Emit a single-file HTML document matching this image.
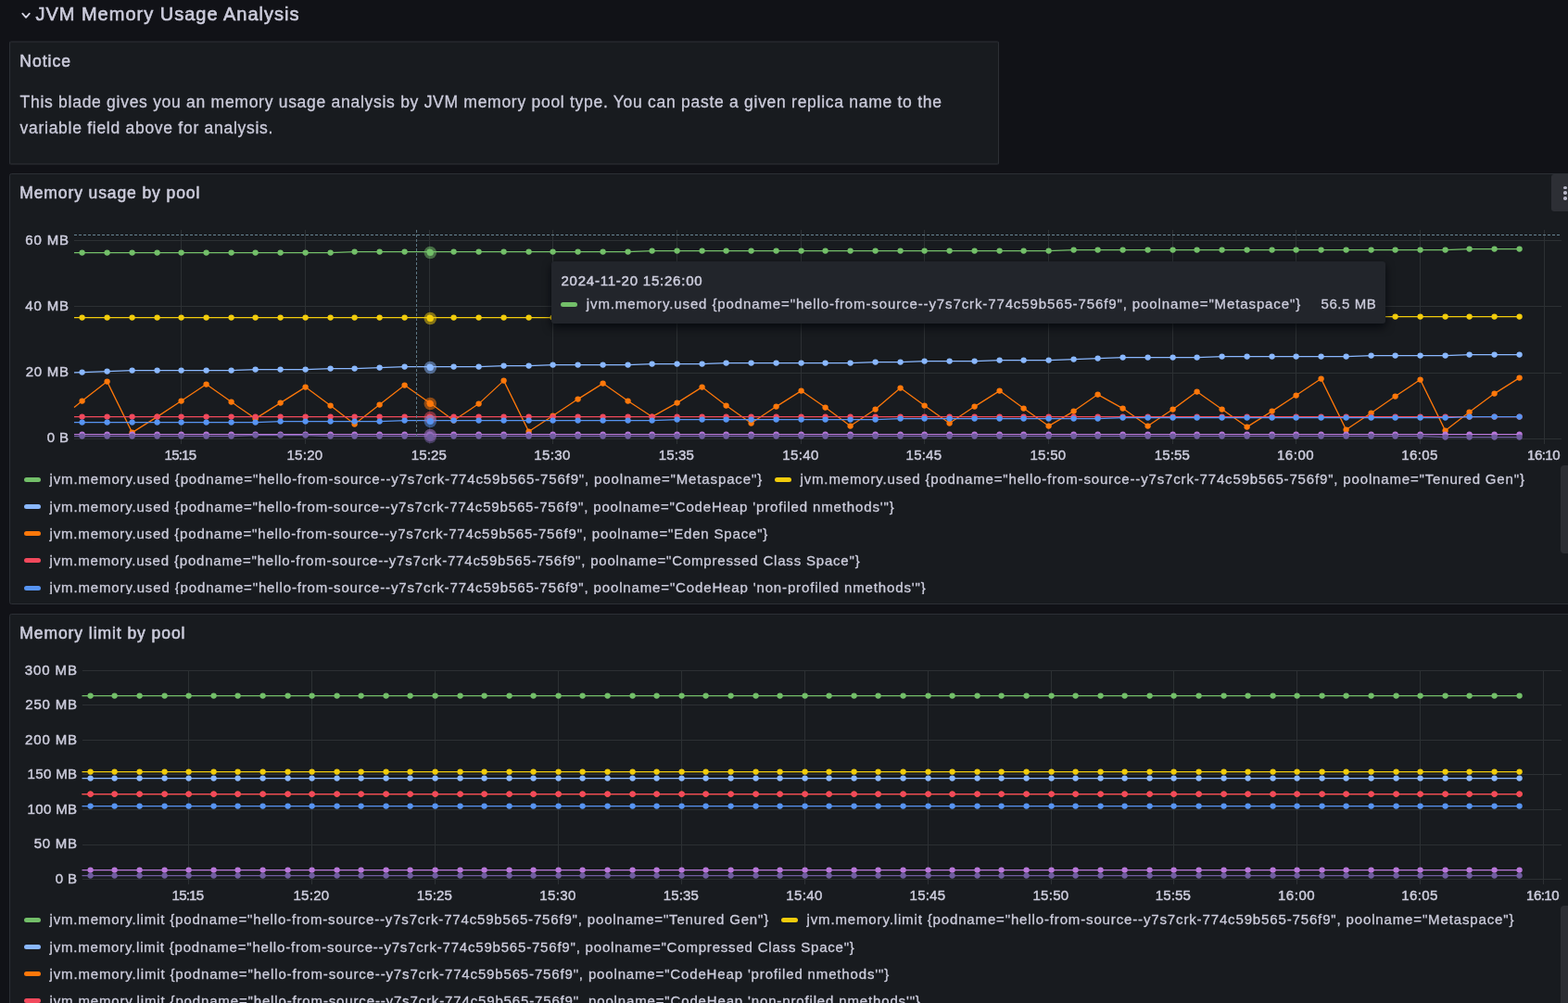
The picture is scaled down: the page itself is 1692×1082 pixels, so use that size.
<!DOCTYPE html>
<html lang="en">
<head>
<meta charset="utf-8">
<title>JVM Memory Usage Analysis</title>
<style>
*{box-sizing:border-box;margin:0;padding:0}
html,body{width:1692px;height:1082px;overflow:hidden;background:#111217}
body{position:relative;font-family:"Liberation Sans",Arial,sans-serif;color:#ccccdc;-webkit-font-smoothing:antialiased}
.rowtitle{position:absolute;left:0;top:0;height:30px;width:600px}
.rowtitle svg{position:absolute;left:20px;top:9px}
.rowtitle h1{position:absolute;left:38.4px;top:3px;font-size:20px;line-height:24px;font-weight:400;letter-spacing:1.0px;white-space:nowrap;-webkit-text-stroke:.6px #ccccdc}
.panel{position:absolute;background:#181b1f;border:1px solid #2c2f35;border-radius:2.5px;overflow:hidden}
#notice{left:10px;top:44px;width:1068px;height:134px;border-top-color:#1f2126;border-bottom-color:#1f2126;box-shadow:inset 0 1px 0 #24262b,inset 0 -1px 0 #24262b}
#usage{left:10px;top:187px;width:1700px;height:465px}
#limit{left:10px;top:662px;width:1700px;height:465px}
.panel h2{position:absolute;left:10.2px;top:9px;font-size:17.5px;line-height:22px;font-weight:400;letter-spacing:.9px;white-space:nowrap;-webkit-text-stroke:.55px #ccccdc}
.md{position:absolute;left:10.6px;top:51.4px;font-size:17.5px;line-height:28px;letter-spacing:.72px;width:1040px;-webkit-text-stroke:.3px #ccccdc}
.md p{white-space:nowrap}
svg.chart{position:absolute;left:-11px;top:-1px;overflow:visible}
svg.chart text{font-family:"Liberation Sans",Arial,sans-serif;fill:#ccccdc;stroke:#ccccdc;stroke-width:.45px}
.legend{position:absolute;left:0;list-style:none;font-size:15px;letter-spacing:.87px;white-space:nowrap;overflow:hidden;-webkit-text-stroke:.3px #ccccdc}
.legend li{height:29.25px;display:flex;align-items:center;padding-left:15px}
.legend .item{display:inline-flex;align-items:center;height:29.25px;margin-right:13px}
.legend li.r1 .lbl,.legend li.r2 .lbl,.legend li.r3 .lbl{top:.4px}
.legend i{display:inline-block;width:17.5px;height:5px;border-radius:2.5px;margin-right:10px}
.legend .lbl{display:inline-block;line-height:20px;position:relative;top:-0.6px}
#usage .legend{top:314.6px;height:138.4px;width:1680px}
#limit .legend{top:314.6px;height:138.4px;width:1680px}
.menu{position:absolute;left:1663px;top:0;width:40px;height:40px;background:#2d2f35;border-radius:3px}
.menu b{position:absolute;left:13.2px;width:4px;height:3.5px;border-radius:1.75px;background:#b6b6c6}
.sb{position:absolute;left:1673px;width:20px;border-radius:4px;background:#2c2e33}
.tooltip{position:absolute;left:595px;top:282px;width:900px;height:67px;background:#22252b;border-radius:3px;box-shadow:0 4px 10px rgba(1,4,9,.75);font-size:15px;white-space:nowrap}
.tooltip .ts{position:absolute;left:10.4px;top:10.6px;line-height:20px;letter-spacing:.78px;-webkit-text-stroke:.5px #ccccdc}
.tooltip i{position:absolute;left:10px;top:44px;width:17.5px;height:5px;border-radius:2.5px;background:#73BF69}
.tooltip .lbl{position:absolute;left:37.8px;top:35.5px;line-height:20px;letter-spacing:.886px;-webkit-text-stroke:.3px #ccccdc}
.tooltip .val{position:absolute;right:9.6px;top:35.5px;line-height:20px;letter-spacing:.57px;-webkit-text-stroke:.3px #ccccdc}
</style>
</head>
<body>
<header class="rowtitle"><svg width="16" height="16" viewBox="0 0 16 16"><path d="M4.3,5.7 L8.05,9.85 L11.8,5.7" fill="none" stroke="#d4d4e2" stroke-width="1.8" stroke-linecap="round" stroke-linejoin="round"/></svg><h1>JVM Memory Usage Analysis</h1></header>
<section class="panel" id="notice"><h2 style="letter-spacing:1.05px;top:10px">Notice</h2><div class="md"><p>This blade gives you an memory usage analysis by JVM memory pool type. You can paste a given replica name to the</p><p>variable field above for analysis.</p></div></section>
<section class="panel" id="usage"><h2>Memory usage by pool</h2>
<svg class="chart" width="1710" height="330" viewBox="0 187 1710 330" style="top:-1px">
<rect x="80" y="259" width="1605" height="1" fill="#2c3033"/>
<rect x="80" y="330" width="1605" height="1" fill="#2c3033"/>
<rect x="80" y="402" width="1605" height="1" fill="#2c3033"/>
<rect x="80" y="473" width="1605" height="1" fill="#2c3033"/>
<rect x="195" y="248" width="1" height="231" fill="#2c3033"/>
<rect x="329" y="248" width="1" height="231" fill="#2c3033"/>
<rect x="463" y="248" width="1" height="231" fill="#2c3033"/>
<rect x="596" y="248" width="1" height="231" fill="#2c3033"/>
<rect x="730" y="248" width="1" height="231" fill="#2c3033"/>
<rect x="864" y="248" width="1" height="231" fill="#2c3033"/>
<rect x="997" y="248" width="1" height="231" fill="#2c3033"/>
<rect x="1131" y="248" width="1" height="231" fill="#2c3033"/>
<rect x="1265" y="248" width="1" height="231" fill="#2c3033"/>
<rect x="1398" y="248" width="1" height="231" fill="#2c3033"/>
<rect x="1532" y="248" width="1" height="231" fill="#2c3033"/>
<rect x="1666" y="248" width="1" height="231" fill="#2c3033"/>
<g class="ax">
<text x="74.0" y="263.5" text-anchor="end" font-size="15" textLength="46.8" lengthAdjust="spacing" >60 MB</text>
<text x="74.0" y="334.7" text-anchor="end" font-size="15" textLength="46.8" lengthAdjust="spacing" >40 MB</text>
<text x="74.0" y="406.2" text-anchor="end" font-size="15" textLength="46.2" lengthAdjust="spacing" >20 MB</text>
<text x="74.0" y="477.2" text-anchor="end" font-size="15" textLength="23.3" lengthAdjust="spacing" >0 B</text>
<text x="194.8" y="495.5" text-anchor="middle" font-size="15" textLength="34.4" lengthAdjust="spacing" >15:15</text>
<text x="328.8" y="495.5" text-anchor="middle" font-size="15" textLength="38.6" lengthAdjust="spacing" >15:20</text>
<text x="462.8" y="495.5" text-anchor="middle" font-size="15" textLength="37.9" lengthAdjust="spacing" >15:25</text>
<text x="595.8" y="495.5" text-anchor="middle" font-size="15" textLength="38.9" lengthAdjust="spacing" >15:30</text>
<text x="729.8" y="495.5" text-anchor="middle" font-size="15" textLength="38.2" lengthAdjust="spacing" >15:35</text>
<text x="863.8" y="495.5" text-anchor="middle" font-size="15" textLength="39.2" lengthAdjust="spacing" >15:40</text>
<text x="996.8" y="495.5" text-anchor="middle" font-size="15" textLength="38.5" lengthAdjust="spacing" >15:45</text>
<text x="1130.8" y="495.5" text-anchor="middle" font-size="15" textLength="38.7" lengthAdjust="spacing" >15:50</text>
<text x="1264.8" y="495.5" text-anchor="middle" font-size="15" textLength="38.0" lengthAdjust="spacing" >15:55</text>
<text x="1397.8" y="495.5" text-anchor="middle" font-size="15" textLength="39.7" lengthAdjust="spacing" >16:00</text>
<text x="1531.8" y="495.5" text-anchor="middle" font-size="15" textLength="39.0" lengthAdjust="spacing" >16:05</text>
<text x="1665.8" y="495.5" text-anchor="middle" font-size="15" textLength="35.4" lengthAdjust="spacing" >16:10</text>
</g>
<path d="M80.0,272.6 L88.6,272.6 L115.6,272.6 L142.6,272.6 L169.6,272.6 L195.6,272.6 L222.6,272.6 L249.6,272.6 L275.6,272.6 L302.6,272.6 L329.6,272.6 L356.6,272.6 L382.6,271.6 L409.6,271.6 L436.6,271.6 L463.6,271.6 L489.6,271.6 L516.6,271.6 L543.6,271.6 L570.6,271.6 L596.6,271.6 L623.6,271.6 L650.6,271.6 L677.6,271.6 L703.6,270.6 L730.6,270.6 L757.6,270.6 L783.6,270.6 L810.6,270.6 L837.6,270.6 L864.6,270.6 L890.6,270.6 L917.6,270.6 L944.6,270.6 L971.6,270.6 L997.6,270.6 L1024.6,270.6 L1051.6,270.6 L1078.6,270.6 L1104.6,270.6 L1131.6,270.6 L1158.6,269.6 L1184.6,269.6 L1211.6,269.6 L1238.6,269.6 L1265.6,269.6 L1291.6,269.6 L1318.6,269.6 L1345.6,269.6 L1372.6,269.6 L1398.6,269.6 L1425.6,269.6 L1452.6,269.6 L1479.6,269.6 L1505.6,269.6 L1532.6,269.6 L1559.6,269.6 L1585.6,268.6 L1612.6,268.6 L1639.6,268.6" fill="none" stroke="#73BF69" stroke-width="1.25" stroke-linejoin="round"/><g fill="#73BF69"><circle cx="88.6" cy="272.6" r="3.15"/><circle cx="115.6" cy="272.6" r="3.15"/><circle cx="142.6" cy="272.6" r="3.15"/><circle cx="169.6" cy="272.6" r="3.15"/><circle cx="195.6" cy="272.6" r="3.15"/><circle cx="222.6" cy="272.6" r="3.15"/><circle cx="249.6" cy="272.6" r="3.15"/><circle cx="275.6" cy="272.6" r="3.15"/><circle cx="302.6" cy="272.6" r="3.15"/><circle cx="329.6" cy="272.6" r="3.15"/><circle cx="356.6" cy="272.6" r="3.15"/><circle cx="382.6" cy="271.6" r="3.15"/><circle cx="409.6" cy="271.6" r="3.15"/><circle cx="436.6" cy="271.6" r="3.15"/><circle cx="463.6" cy="271.6" r="3.15"/><circle cx="489.6" cy="271.6" r="3.15"/><circle cx="516.6" cy="271.6" r="3.15"/><circle cx="543.6" cy="271.6" r="3.15"/><circle cx="570.6" cy="271.6" r="3.15"/><circle cx="596.6" cy="271.6" r="3.15"/><circle cx="623.6" cy="271.6" r="3.15"/><circle cx="650.6" cy="271.6" r="3.15"/><circle cx="677.6" cy="271.6" r="3.15"/><circle cx="703.6" cy="270.6" r="3.15"/><circle cx="730.6" cy="270.6" r="3.15"/><circle cx="757.6" cy="270.6" r="3.15"/><circle cx="783.6" cy="270.6" r="3.15"/><circle cx="810.6" cy="270.6" r="3.15"/><circle cx="837.6" cy="270.6" r="3.15"/><circle cx="864.6" cy="270.6" r="3.15"/><circle cx="890.6" cy="270.6" r="3.15"/><circle cx="917.6" cy="270.6" r="3.15"/><circle cx="944.6" cy="270.6" r="3.15"/><circle cx="971.6" cy="270.6" r="3.15"/><circle cx="997.6" cy="270.6" r="3.15"/><circle cx="1024.6" cy="270.6" r="3.15"/><circle cx="1051.6" cy="270.6" r="3.15"/><circle cx="1078.6" cy="270.6" r="3.15"/><circle cx="1104.6" cy="270.6" r="3.15"/><circle cx="1131.6" cy="270.6" r="3.15"/><circle cx="1158.6" cy="269.6" r="3.15"/><circle cx="1184.6" cy="269.6" r="3.15"/><circle cx="1211.6" cy="269.6" r="3.15"/><circle cx="1238.6" cy="269.6" r="3.15"/><circle cx="1265.6" cy="269.6" r="3.15"/><circle cx="1291.6" cy="269.6" r="3.15"/><circle cx="1318.6" cy="269.6" r="3.15"/><circle cx="1345.6" cy="269.6" r="3.15"/><circle cx="1372.6" cy="269.6" r="3.15"/><circle cx="1398.6" cy="269.6" r="3.15"/><circle cx="1425.6" cy="269.6" r="3.15"/><circle cx="1452.6" cy="269.6" r="3.15"/><circle cx="1479.6" cy="269.6" r="3.15"/><circle cx="1505.6" cy="269.6" r="3.15"/><circle cx="1532.6" cy="269.6" r="3.15"/><circle cx="1559.6" cy="269.6" r="3.15"/><circle cx="1585.6" cy="268.6" r="3.15"/><circle cx="1612.6" cy="268.6" r="3.15"/><circle cx="1639.6" cy="268.6" r="3.15"/></g>
<path d="M80.0,342.6 L88.6,342.6 L115.6,342.6 L142.6,342.6 L169.6,342.6 L195.6,342.6 L222.6,342.6 L249.6,342.6 L275.6,342.6 L302.6,342.6 L329.6,342.6 L356.6,342.6 L382.6,342.6 L409.6,342.6 L436.6,342.6 L463.6,342.6 L489.6,342.6 L516.6,342.6 L543.6,342.6 L570.6,342.6 L596.6,342.6 L623.6,342.6 L650.6,342.6 L677.6,342.6 L703.6,342.6 L730.6,342.6 L757.6,342.6 L783.6,342.6 L810.6,342.6 L837.6,342.6 L864.6,342.6 L890.6,341.6 L917.6,341.6 L944.6,341.6 L971.6,341.6 L997.6,341.6 L1024.6,341.6 L1051.6,341.6 L1078.6,341.6 L1104.6,341.6 L1131.6,341.6 L1158.6,341.6 L1184.6,341.6 L1211.6,341.6 L1238.6,341.6 L1265.6,341.6 L1291.6,341.6 L1318.6,341.6 L1345.6,341.6 L1372.6,341.6 L1398.6,341.6 L1425.6,341.6 L1452.6,341.6 L1479.6,341.6 L1505.6,341.6 L1532.6,341.6 L1559.6,341.6 L1585.6,341.6 L1612.6,341.6 L1639.6,341.6" fill="none" stroke="#F2CC0C" stroke-width="1.25" stroke-linejoin="round"/><g fill="#F2CC0C"><circle cx="88.6" cy="342.6" r="3.15"/><circle cx="115.6" cy="342.6" r="3.15"/><circle cx="142.6" cy="342.6" r="3.15"/><circle cx="169.6" cy="342.6" r="3.15"/><circle cx="195.6" cy="342.6" r="3.15"/><circle cx="222.6" cy="342.6" r="3.15"/><circle cx="249.6" cy="342.6" r="3.15"/><circle cx="275.6" cy="342.6" r="3.15"/><circle cx="302.6" cy="342.6" r="3.15"/><circle cx="329.6" cy="342.6" r="3.15"/><circle cx="356.6" cy="342.6" r="3.15"/><circle cx="382.6" cy="342.6" r="3.15"/><circle cx="409.6" cy="342.6" r="3.15"/><circle cx="436.6" cy="342.6" r="3.15"/><circle cx="463.6" cy="342.6" r="3.15"/><circle cx="489.6" cy="342.6" r="3.15"/><circle cx="516.6" cy="342.6" r="3.15"/><circle cx="543.6" cy="342.6" r="3.15"/><circle cx="570.6" cy="342.6" r="3.15"/><circle cx="596.6" cy="342.6" r="3.15"/><circle cx="623.6" cy="342.6" r="3.15"/><circle cx="650.6" cy="342.6" r="3.15"/><circle cx="677.6" cy="342.6" r="3.15"/><circle cx="703.6" cy="342.6" r="3.15"/><circle cx="730.6" cy="342.6" r="3.15"/><circle cx="757.6" cy="342.6" r="3.15"/><circle cx="783.6" cy="342.6" r="3.15"/><circle cx="810.6" cy="342.6" r="3.15"/><circle cx="837.6" cy="342.6" r="3.15"/><circle cx="864.6" cy="342.6" r="3.15"/><circle cx="890.6" cy="341.6" r="3.15"/><circle cx="917.6" cy="341.6" r="3.15"/><circle cx="944.6" cy="341.6" r="3.15"/><circle cx="971.6" cy="341.6" r="3.15"/><circle cx="997.6" cy="341.6" r="3.15"/><circle cx="1024.6" cy="341.6" r="3.15"/><circle cx="1051.6" cy="341.6" r="3.15"/><circle cx="1078.6" cy="341.6" r="3.15"/><circle cx="1104.6" cy="341.6" r="3.15"/><circle cx="1131.6" cy="341.6" r="3.15"/><circle cx="1158.6" cy="341.6" r="3.15"/><circle cx="1184.6" cy="341.6" r="3.15"/><circle cx="1211.6" cy="341.6" r="3.15"/><circle cx="1238.6" cy="341.6" r="3.15"/><circle cx="1265.6" cy="341.6" r="3.15"/><circle cx="1291.6" cy="341.6" r="3.15"/><circle cx="1318.6" cy="341.6" r="3.15"/><circle cx="1345.6" cy="341.6" r="3.15"/><circle cx="1372.6" cy="341.6" r="3.15"/><circle cx="1398.6" cy="341.6" r="3.15"/><circle cx="1425.6" cy="341.6" r="3.15"/><circle cx="1452.6" cy="341.6" r="3.15"/><circle cx="1479.6" cy="341.6" r="3.15"/><circle cx="1505.6" cy="341.6" r="3.15"/><circle cx="1532.6" cy="341.6" r="3.15"/><circle cx="1559.6" cy="341.6" r="3.15"/><circle cx="1585.6" cy="341.6" r="3.15"/><circle cx="1612.6" cy="341.6" r="3.15"/><circle cx="1639.6" cy="341.6" r="3.15"/></g>
<path d="M80.0,401.9 L88.6,401.6 L115.6,400.6 L142.6,399.6 L169.6,399.6 L195.6,399.6 L222.6,399.6 L249.6,399.6 L275.6,398.6 L302.6,398.6 L329.6,398.6 L356.6,397.6 L382.6,397.6 L409.6,396.6 L436.6,395.6 L463.6,395.6 L489.6,395.6 L516.6,395.6 L543.6,394.6 L570.6,394.6 L596.6,393.6 L623.6,393.6 L650.6,393.6 L677.6,393.6 L703.6,392.6 L730.6,392.6 L757.6,392.6 L783.6,391.6 L810.6,391.6 L837.6,391.6 L864.6,391.6 L890.6,391.6 L917.6,391.6 L944.6,390.6 L971.6,390.6 L997.6,389.6 L1024.6,389.6 L1051.6,389.6 L1078.6,388.6 L1104.6,388.6 L1131.6,388.6 L1158.6,387.6 L1184.6,386.6 L1211.6,385.6 L1238.6,385.6 L1265.6,385.6 L1291.6,385.6 L1318.6,384.6 L1345.6,384.6 L1372.6,384.6 L1398.6,384.6 L1425.6,384.6 L1452.6,384.6 L1479.6,383.6 L1505.6,383.6 L1532.6,383.6 L1559.6,383.6 L1585.6,382.6 L1612.6,382.6 L1639.6,382.6" fill="none" stroke="#8AB8FF" stroke-width="1.25" stroke-linejoin="round"/><g fill="#8AB8FF"><circle cx="88.6" cy="401.6" r="3.15"/><circle cx="115.6" cy="400.6" r="3.15"/><circle cx="142.6" cy="399.6" r="3.15"/><circle cx="169.6" cy="399.6" r="3.15"/><circle cx="195.6" cy="399.6" r="3.15"/><circle cx="222.6" cy="399.6" r="3.15"/><circle cx="249.6" cy="399.6" r="3.15"/><circle cx="275.6" cy="398.6" r="3.15"/><circle cx="302.6" cy="398.6" r="3.15"/><circle cx="329.6" cy="398.6" r="3.15"/><circle cx="356.6" cy="397.6" r="3.15"/><circle cx="382.6" cy="397.6" r="3.15"/><circle cx="409.6" cy="396.6" r="3.15"/><circle cx="436.6" cy="395.6" r="3.15"/><circle cx="463.6" cy="395.6" r="3.15"/><circle cx="489.6" cy="395.6" r="3.15"/><circle cx="516.6" cy="395.6" r="3.15"/><circle cx="543.6" cy="394.6" r="3.15"/><circle cx="570.6" cy="394.6" r="3.15"/><circle cx="596.6" cy="393.6" r="3.15"/><circle cx="623.6" cy="393.6" r="3.15"/><circle cx="650.6" cy="393.6" r="3.15"/><circle cx="677.6" cy="393.6" r="3.15"/><circle cx="703.6" cy="392.6" r="3.15"/><circle cx="730.6" cy="392.6" r="3.15"/><circle cx="757.6" cy="392.6" r="3.15"/><circle cx="783.6" cy="391.6" r="3.15"/><circle cx="810.6" cy="391.6" r="3.15"/><circle cx="837.6" cy="391.6" r="3.15"/><circle cx="864.6" cy="391.6" r="3.15"/><circle cx="890.6" cy="391.6" r="3.15"/><circle cx="917.6" cy="391.6" r="3.15"/><circle cx="944.6" cy="390.6" r="3.15"/><circle cx="971.6" cy="390.6" r="3.15"/><circle cx="997.6" cy="389.6" r="3.15"/><circle cx="1024.6" cy="389.6" r="3.15"/><circle cx="1051.6" cy="389.6" r="3.15"/><circle cx="1078.6" cy="388.6" r="3.15"/><circle cx="1104.6" cy="388.6" r="3.15"/><circle cx="1131.6" cy="388.6" r="3.15"/><circle cx="1158.6" cy="387.6" r="3.15"/><circle cx="1184.6" cy="386.6" r="3.15"/><circle cx="1211.6" cy="385.6" r="3.15"/><circle cx="1238.6" cy="385.6" r="3.15"/><circle cx="1265.6" cy="385.6" r="3.15"/><circle cx="1291.6" cy="385.6" r="3.15"/><circle cx="1318.6" cy="384.6" r="3.15"/><circle cx="1345.6" cy="384.6" r="3.15"/><circle cx="1372.6" cy="384.6" r="3.15"/><circle cx="1398.6" cy="384.6" r="3.15"/><circle cx="1425.6" cy="384.6" r="3.15"/><circle cx="1452.6" cy="384.6" r="3.15"/><circle cx="1479.6" cy="383.6" r="3.15"/><circle cx="1505.6" cy="383.6" r="3.15"/><circle cx="1532.6" cy="383.6" r="3.15"/><circle cx="1559.6" cy="383.6" r="3.15"/><circle cx="1585.6" cy="382.6" r="3.15"/><circle cx="1612.6" cy="382.6" r="3.15"/><circle cx="1639.6" cy="382.6" r="3.15"/></g>
<path d="M80.0,439.5 L88.6,432.6 L115.6,411.6 L142.6,466.6 L169.6,449.6 L195.6,432.6 L222.6,414.6 L249.6,433.6 L275.6,451.6 L302.6,434.6 L329.6,417.6 L356.6,437.6 L382.6,457.6 L409.6,436.6 L436.6,415.6 L463.6,434.6 L489.6,453.6 L516.6,435.6 L543.6,410.6 L570.6,465.6 L596.6,448.6 L623.6,430.6 L650.6,413.6 L677.6,432.6 L703.6,449.6 L730.6,434.6 L757.6,417.6 L783.6,437.6 L810.6,456.6 L837.6,438.6 L864.6,421.6 L890.6,439.6 L917.6,459.6 L944.6,441.6 L971.6,418.6 L997.6,437.6 L1024.6,456.6 L1051.6,438.6 L1078.6,421.6 L1104.6,440.6 L1131.6,459.6 L1158.6,443.6 L1184.6,425.6 L1211.6,440.6 L1238.6,459.6 L1265.6,441.6 L1291.6,422.6 L1318.6,441.6 L1345.6,460.6 L1372.6,443.6 L1398.6,426.6 L1425.6,408.6 L1452.6,463.6 L1479.6,445.6 L1505.6,427.6 L1532.6,409.6 L1559.6,464.6 L1585.6,444.6 L1612.6,424.6 L1639.6,407.6" fill="none" stroke="#FF780A" stroke-width="1.25" stroke-linejoin="round"/><g fill="#FF780A"><circle cx="88.6" cy="432.6" r="3.15"/><circle cx="115.6" cy="411.6" r="3.15"/><circle cx="142.6" cy="466.6" r="3.15"/><circle cx="169.6" cy="449.6" r="3.15"/><circle cx="195.6" cy="432.6" r="3.15"/><circle cx="222.6" cy="414.6" r="3.15"/><circle cx="249.6" cy="433.6" r="3.15"/><circle cx="275.6" cy="451.6" r="3.15"/><circle cx="302.6" cy="434.6" r="3.15"/><circle cx="329.6" cy="417.6" r="3.15"/><circle cx="356.6" cy="437.6" r="3.15"/><circle cx="382.6" cy="457.6" r="3.15"/><circle cx="409.6" cy="436.6" r="3.15"/><circle cx="436.6" cy="415.6" r="3.15"/><circle cx="463.6" cy="434.6" r="3.15"/><circle cx="489.6" cy="453.6" r="3.15"/><circle cx="516.6" cy="435.6" r="3.15"/><circle cx="543.6" cy="410.6" r="3.15"/><circle cx="570.6" cy="465.6" r="3.15"/><circle cx="596.6" cy="448.6" r="3.15"/><circle cx="623.6" cy="430.6" r="3.15"/><circle cx="650.6" cy="413.6" r="3.15"/><circle cx="677.6" cy="432.6" r="3.15"/><circle cx="703.6" cy="449.6" r="3.15"/><circle cx="730.6" cy="434.6" r="3.15"/><circle cx="757.6" cy="417.6" r="3.15"/><circle cx="783.6" cy="437.6" r="3.15"/><circle cx="810.6" cy="456.6" r="3.15"/><circle cx="837.6" cy="438.6" r="3.15"/><circle cx="864.6" cy="421.6" r="3.15"/><circle cx="890.6" cy="439.6" r="3.15"/><circle cx="917.6" cy="459.6" r="3.15"/><circle cx="944.6" cy="441.6" r="3.15"/><circle cx="971.6" cy="418.6" r="3.15"/><circle cx="997.6" cy="437.6" r="3.15"/><circle cx="1024.6" cy="456.6" r="3.15"/><circle cx="1051.6" cy="438.6" r="3.15"/><circle cx="1078.6" cy="421.6" r="3.15"/><circle cx="1104.6" cy="440.6" r="3.15"/><circle cx="1131.6" cy="459.6" r="3.15"/><circle cx="1158.6" cy="443.6" r="3.15"/><circle cx="1184.6" cy="425.6" r="3.15"/><circle cx="1211.6" cy="440.6" r="3.15"/><circle cx="1238.6" cy="459.6" r="3.15"/><circle cx="1265.6" cy="441.6" r="3.15"/><circle cx="1291.6" cy="422.6" r="3.15"/><circle cx="1318.6" cy="441.6" r="3.15"/><circle cx="1345.6" cy="460.6" r="3.15"/><circle cx="1372.6" cy="443.6" r="3.15"/><circle cx="1398.6" cy="426.6" r="3.15"/><circle cx="1425.6" cy="408.6" r="3.15"/><circle cx="1452.6" cy="463.6" r="3.15"/><circle cx="1479.6" cy="445.6" r="3.15"/><circle cx="1505.6" cy="427.6" r="3.15"/><circle cx="1532.6" cy="409.6" r="3.15"/><circle cx="1559.6" cy="464.6" r="3.15"/><circle cx="1585.6" cy="444.6" r="3.15"/><circle cx="1612.6" cy="424.6" r="3.15"/><circle cx="1639.6" cy="407.6" r="3.15"/></g>
<path d="M80.0,449.6 L88.6,449.6 L115.6,449.6 L142.6,449.6 L169.6,449.6 L195.6,449.6 L222.6,449.6 L249.6,449.6 L275.6,449.6 L302.6,449.6 L329.6,449.6 L356.6,449.6 L382.6,449.6 L409.6,449.6 L436.6,449.6 L463.6,449.6 L489.6,449.6 L516.6,449.6 L543.6,449.6 L570.6,449.6 L596.6,449.6 L623.6,449.6 L650.6,449.6 L677.6,449.6 L703.6,449.6 L730.6,449.6 L757.6,449.6 L783.6,449.6 L810.6,449.6 L837.6,449.6 L864.6,449.6 L890.6,449.6 L917.6,449.6 L944.6,449.6 L971.6,449.6 L997.6,449.6 L1024.6,449.6 L1051.6,449.6 L1078.6,449.6 L1104.6,449.6 L1131.6,449.6 L1158.6,449.6 L1184.6,449.6 L1211.6,449.6 L1238.6,449.6 L1265.6,449.6 L1291.6,449.6 L1318.6,449.6 L1345.6,449.6 L1372.6,449.6 L1398.6,449.6 L1425.6,449.6 L1452.6,449.6 L1479.6,449.6 L1505.6,449.6 L1532.6,449.6 L1559.6,449.6 L1585.6,449.6 L1612.6,449.6 L1639.6,449.6" fill="none" stroke="#F2495C" stroke-width="1.25" stroke-linejoin="round"/><g fill="#F2495C"><circle cx="88.6" cy="449.6" r="3.15"/><circle cx="115.6" cy="449.6" r="3.15"/><circle cx="142.6" cy="449.6" r="3.15"/><circle cx="169.6" cy="449.6" r="3.15"/><circle cx="195.6" cy="449.6" r="3.15"/><circle cx="222.6" cy="449.6" r="3.15"/><circle cx="249.6" cy="449.6" r="3.15"/><circle cx="275.6" cy="449.6" r="3.15"/><circle cx="302.6" cy="449.6" r="3.15"/><circle cx="329.6" cy="449.6" r="3.15"/><circle cx="356.6" cy="449.6" r="3.15"/><circle cx="382.6" cy="449.6" r="3.15"/><circle cx="409.6" cy="449.6" r="3.15"/><circle cx="436.6" cy="449.6" r="3.15"/><circle cx="463.6" cy="449.6" r="3.15"/><circle cx="489.6" cy="449.6" r="3.15"/><circle cx="516.6" cy="449.6" r="3.15"/><circle cx="543.6" cy="449.6" r="3.15"/><circle cx="570.6" cy="449.6" r="3.15"/><circle cx="596.6" cy="449.6" r="3.15"/><circle cx="623.6" cy="449.6" r="3.15"/><circle cx="650.6" cy="449.6" r="3.15"/><circle cx="677.6" cy="449.6" r="3.15"/><circle cx="703.6" cy="449.6" r="3.15"/><circle cx="730.6" cy="449.6" r="3.15"/><circle cx="757.6" cy="449.6" r="3.15"/><circle cx="783.6" cy="449.6" r="3.15"/><circle cx="810.6" cy="449.6" r="3.15"/><circle cx="837.6" cy="449.6" r="3.15"/><circle cx="864.6" cy="449.6" r="3.15"/><circle cx="890.6" cy="449.6" r="3.15"/><circle cx="917.6" cy="449.6" r="3.15"/><circle cx="944.6" cy="449.6" r="3.15"/><circle cx="971.6" cy="449.6" r="3.15"/><circle cx="997.6" cy="449.6" r="3.15"/><circle cx="1024.6" cy="449.6" r="3.15"/><circle cx="1051.6" cy="449.6" r="3.15"/><circle cx="1078.6" cy="449.6" r="3.15"/><circle cx="1104.6" cy="449.6" r="3.15"/><circle cx="1131.6" cy="449.6" r="3.15"/><circle cx="1158.6" cy="449.6" r="3.15"/><circle cx="1184.6" cy="449.6" r="3.15"/><circle cx="1211.6" cy="449.6" r="3.15"/><circle cx="1238.6" cy="449.6" r="3.15"/><circle cx="1265.6" cy="449.6" r="3.15"/><circle cx="1291.6" cy="449.6" r="3.15"/><circle cx="1318.6" cy="449.6" r="3.15"/><circle cx="1345.6" cy="449.6" r="3.15"/><circle cx="1372.6" cy="449.6" r="3.15"/><circle cx="1398.6" cy="449.6" r="3.15"/><circle cx="1425.6" cy="449.6" r="3.15"/><circle cx="1452.6" cy="449.6" r="3.15"/><circle cx="1479.6" cy="449.6" r="3.15"/><circle cx="1505.6" cy="449.6" r="3.15"/><circle cx="1532.6" cy="449.6" r="3.15"/><circle cx="1559.6" cy="449.6" r="3.15"/><circle cx="1585.6" cy="449.6" r="3.15"/><circle cx="1612.6" cy="449.6" r="3.15"/><circle cx="1639.6" cy="449.6" r="3.15"/></g>
<path d="M80.0,455.6 L88.6,455.6 L115.6,455.6 L142.6,455.6 L169.6,455.6 L195.6,455.6 L222.6,455.6 L249.6,455.6 L275.6,455.6 L302.6,454.6 L329.6,454.6 L356.6,454.6 L382.6,454.6 L409.6,454.6 L436.6,453.6 L463.6,453.6 L489.6,453.6 L516.6,453.6 L543.6,453.6 L570.6,453.6 L596.6,453.6 L623.6,453.6 L650.6,453.6 L677.6,453.6 L703.6,453.6 L730.6,452.6 L757.6,452.6 L783.6,452.6 L810.6,452.6 L837.6,452.6 L864.6,452.6 L890.6,452.6 L917.6,452.6 L944.6,452.6 L971.6,451.6 L997.6,451.6 L1024.6,451.6 L1051.6,451.6 L1078.6,451.6 L1104.6,451.6 L1131.6,451.6 L1158.6,451.6 L1184.6,451.6 L1211.6,450.6 L1238.6,450.6 L1265.6,450.6 L1291.6,450.6 L1318.6,450.6 L1345.6,450.6 L1372.6,450.6 L1398.6,450.6 L1425.6,450.6 L1452.6,450.6 L1479.6,450.6 L1505.6,450.6 L1532.6,450.6 L1559.6,450.6 L1585.6,449.6 L1612.6,449.6 L1639.6,449.6" fill="none" stroke="#5794F2" stroke-width="1.25" stroke-linejoin="round"/><g fill="#5794F2"><circle cx="88.6" cy="455.6" r="3.15"/><circle cx="115.6" cy="455.6" r="3.15"/><circle cx="142.6" cy="455.6" r="3.15"/><circle cx="169.6" cy="455.6" r="3.15"/><circle cx="195.6" cy="455.6" r="3.15"/><circle cx="222.6" cy="455.6" r="3.15"/><circle cx="249.6" cy="455.6" r="3.15"/><circle cx="275.6" cy="455.6" r="3.15"/><circle cx="302.6" cy="454.6" r="3.15"/><circle cx="329.6" cy="454.6" r="3.15"/><circle cx="356.6" cy="454.6" r="3.15"/><circle cx="382.6" cy="454.6" r="3.15"/><circle cx="409.6" cy="454.6" r="3.15"/><circle cx="436.6" cy="453.6" r="3.15"/><circle cx="463.6" cy="453.6" r="3.15"/><circle cx="489.6" cy="453.6" r="3.15"/><circle cx="516.6" cy="453.6" r="3.15"/><circle cx="543.6" cy="453.6" r="3.15"/><circle cx="570.6" cy="453.6" r="3.15"/><circle cx="596.6" cy="453.6" r="3.15"/><circle cx="623.6" cy="453.6" r="3.15"/><circle cx="650.6" cy="453.6" r="3.15"/><circle cx="677.6" cy="453.6" r="3.15"/><circle cx="703.6" cy="453.6" r="3.15"/><circle cx="730.6" cy="452.6" r="3.15"/><circle cx="757.6" cy="452.6" r="3.15"/><circle cx="783.6" cy="452.6" r="3.15"/><circle cx="810.6" cy="452.6" r="3.15"/><circle cx="837.6" cy="452.6" r="3.15"/><circle cx="864.6" cy="452.6" r="3.15"/><circle cx="890.6" cy="452.6" r="3.15"/><circle cx="917.6" cy="452.6" r="3.15"/><circle cx="944.6" cy="452.6" r="3.15"/><circle cx="971.6" cy="451.6" r="3.15"/><circle cx="997.6" cy="451.6" r="3.15"/><circle cx="1024.6" cy="451.6" r="3.15"/><circle cx="1051.6" cy="451.6" r="3.15"/><circle cx="1078.6" cy="451.6" r="3.15"/><circle cx="1104.6" cy="451.6" r="3.15"/><circle cx="1131.6" cy="451.6" r="3.15"/><circle cx="1158.6" cy="451.6" r="3.15"/><circle cx="1184.6" cy="451.6" r="3.15"/><circle cx="1211.6" cy="450.6" r="3.15"/><circle cx="1238.6" cy="450.6" r="3.15"/><circle cx="1265.6" cy="450.6" r="3.15"/><circle cx="1291.6" cy="450.6" r="3.15"/><circle cx="1318.6" cy="450.6" r="3.15"/><circle cx="1345.6" cy="450.6" r="3.15"/><circle cx="1372.6" cy="450.6" r="3.15"/><circle cx="1398.6" cy="450.6" r="3.15"/><circle cx="1425.6" cy="450.6" r="3.15"/><circle cx="1452.6" cy="450.6" r="3.15"/><circle cx="1479.6" cy="450.6" r="3.15"/><circle cx="1505.6" cy="450.6" r="3.15"/><circle cx="1532.6" cy="450.6" r="3.15"/><circle cx="1559.6" cy="450.6" r="3.15"/><circle cx="1585.6" cy="449.6" r="3.15"/><circle cx="1612.6" cy="449.6" r="3.15"/><circle cx="1639.6" cy="449.6" r="3.15"/></g>
<path d="M80.0,468.6 L88.6,468.6 L115.6,468.6 L142.6,468.6 L169.6,468.6 L195.6,468.6 L222.6,468.6 L249.6,468.6 L275.6,468.6 L302.6,468.6 L329.6,468.6 L356.6,468.6 L382.6,468.6 L409.6,468.6 L436.6,468.6 L463.6,468.6 L489.6,468.6 L516.6,468.6 L543.6,468.6 L570.6,468.6 L596.6,468.6 L623.6,468.6 L650.6,468.6 L677.6,468.6 L703.6,468.6 L730.6,468.6 L757.6,468.6 L783.6,468.6 L810.6,468.6 L837.6,468.6 L864.6,468.6 L890.6,468.6 L917.6,468.6 L944.6,468.6 L971.6,468.6 L997.6,468.6 L1024.6,468.6 L1051.6,468.6 L1078.6,468.6 L1104.6,468.6 L1131.6,468.6 L1158.6,468.6 L1184.6,468.6 L1211.6,468.6 L1238.6,468.6 L1265.6,468.6 L1291.6,468.6 L1318.6,468.6 L1345.6,468.6 L1372.6,468.6 L1398.6,468.6 L1425.6,468.6 L1452.6,468.6 L1479.6,468.6 L1505.6,468.6 L1532.6,468.6 L1559.6,468.6 L1585.6,468.6 L1612.6,468.6 L1639.6,468.6" fill="none" stroke="#B877D9" stroke-width="1.25" stroke-linejoin="round"/><g fill="#B877D9"><circle cx="88.6" cy="468.6" r="3.15"/><circle cx="115.6" cy="468.6" r="3.15"/><circle cx="142.6" cy="468.6" r="3.15"/><circle cx="169.6" cy="468.6" r="3.15"/><circle cx="195.6" cy="468.6" r="3.15"/><circle cx="222.6" cy="468.6" r="3.15"/><circle cx="249.6" cy="468.6" r="3.15"/><circle cx="275.6" cy="468.6" r="3.15"/><circle cx="302.6" cy="468.6" r="3.15"/><circle cx="329.6" cy="468.6" r="3.15"/><circle cx="356.6" cy="468.6" r="3.15"/><circle cx="382.6" cy="468.6" r="3.15"/><circle cx="409.6" cy="468.6" r="3.15"/><circle cx="436.6" cy="468.6" r="3.15"/><circle cx="463.6" cy="468.6" r="3.15"/><circle cx="489.6" cy="468.6" r="3.15"/><circle cx="516.6" cy="468.6" r="3.15"/><circle cx="543.6" cy="468.6" r="3.15"/><circle cx="570.6" cy="468.6" r="3.15"/><circle cx="596.6" cy="468.6" r="3.15"/><circle cx="623.6" cy="468.6" r="3.15"/><circle cx="650.6" cy="468.6" r="3.15"/><circle cx="677.6" cy="468.6" r="3.15"/><circle cx="703.6" cy="468.6" r="3.15"/><circle cx="730.6" cy="468.6" r="3.15"/><circle cx="757.6" cy="468.6" r="3.15"/><circle cx="783.6" cy="468.6" r="3.15"/><circle cx="810.6" cy="468.6" r="3.15"/><circle cx="837.6" cy="468.6" r="3.15"/><circle cx="864.6" cy="468.6" r="3.15"/><circle cx="890.6" cy="468.6" r="3.15"/><circle cx="917.6" cy="468.6" r="3.15"/><circle cx="944.6" cy="468.6" r="3.15"/><circle cx="971.6" cy="468.6" r="3.15"/><circle cx="997.6" cy="468.6" r="3.15"/><circle cx="1024.6" cy="468.6" r="3.15"/><circle cx="1051.6" cy="468.6" r="3.15"/><circle cx="1078.6" cy="468.6" r="3.15"/><circle cx="1104.6" cy="468.6" r="3.15"/><circle cx="1131.6" cy="468.6" r="3.15"/><circle cx="1158.6" cy="468.6" r="3.15"/><circle cx="1184.6" cy="468.6" r="3.15"/><circle cx="1211.6" cy="468.6" r="3.15"/><circle cx="1238.6" cy="468.6" r="3.15"/><circle cx="1265.6" cy="468.6" r="3.15"/><circle cx="1291.6" cy="468.6" r="3.15"/><circle cx="1318.6" cy="468.6" r="3.15"/><circle cx="1345.6" cy="468.6" r="3.15"/><circle cx="1372.6" cy="468.6" r="3.15"/><circle cx="1398.6" cy="468.6" r="3.15"/><circle cx="1425.6" cy="468.6" r="3.15"/><circle cx="1452.6" cy="468.6" r="3.15"/><circle cx="1479.6" cy="468.6" r="3.15"/><circle cx="1505.6" cy="468.6" r="3.15"/><circle cx="1532.6" cy="468.6" r="3.15"/><circle cx="1559.6" cy="468.6" r="3.15"/><circle cx="1585.6" cy="468.6" r="3.15"/><circle cx="1612.6" cy="468.6" r="3.15"/><circle cx="1639.6" cy="468.6" r="3.15"/></g>
<path d="M80.0,470.6 L88.6,470.6 L115.6,470.6 L142.6,470.6 L169.6,470.6 L195.6,470.6 L222.6,470.6 L249.6,470.6 L275.6,469.6 L302.6,469.6 L329.6,469.6 L356.6,470.6 L382.6,470.6 L409.6,470.6 L436.6,470.6 L463.6,470.6 L489.6,470.6 L516.6,470.6 L543.6,470.6 L570.6,470.6 L596.6,470.6 L623.6,470.6 L650.6,470.6 L677.6,470.6 L703.6,470.6 L730.6,470.6 L757.6,470.6 L783.6,470.6 L810.6,470.6 L837.6,470.6 L864.6,470.6 L890.6,470.6 L917.6,470.6 L944.6,470.6 L971.6,470.6 L997.6,470.6 L1024.6,470.6 L1051.6,470.6 L1078.6,470.6 L1104.6,470.6 L1131.6,470.6 L1158.6,470.6 L1184.6,470.6 L1211.6,470.6 L1238.6,470.6 L1265.6,470.6 L1291.6,470.6 L1318.6,470.6 L1345.6,470.6 L1372.6,470.6 L1398.6,470.6 L1425.6,470.6 L1452.6,470.6 L1479.6,470.6 L1505.6,470.6 L1532.6,470.6 L1559.6,471.6 L1585.6,471.6 L1612.6,471.6 L1639.6,471.6" fill="none" stroke="#705DA0" stroke-width="1.25" stroke-linejoin="round"/><g fill="#705DA0"><circle cx="88.6" cy="470.6" r="3.15"/><circle cx="115.6" cy="470.6" r="3.15"/><circle cx="142.6" cy="470.6" r="3.15"/><circle cx="169.6" cy="470.6" r="3.15"/><circle cx="195.6" cy="470.6" r="3.15"/><circle cx="222.6" cy="470.6" r="3.15"/><circle cx="249.6" cy="470.6" r="3.15"/><circle cx="275.6" cy="469.6" r="3.15"/><circle cx="302.6" cy="469.6" r="3.15"/><circle cx="329.6" cy="469.6" r="3.15"/><circle cx="356.6" cy="470.6" r="3.15"/><circle cx="382.6" cy="470.6" r="3.15"/><circle cx="409.6" cy="470.6" r="3.15"/><circle cx="436.6" cy="470.6" r="3.15"/><circle cx="463.6" cy="470.6" r="3.15"/><circle cx="489.6" cy="470.6" r="3.15"/><circle cx="516.6" cy="470.6" r="3.15"/><circle cx="543.6" cy="470.6" r="3.15"/><circle cx="570.6" cy="470.6" r="3.15"/><circle cx="596.6" cy="470.6" r="3.15"/><circle cx="623.6" cy="470.6" r="3.15"/><circle cx="650.6" cy="470.6" r="3.15"/><circle cx="677.6" cy="470.6" r="3.15"/><circle cx="703.6" cy="470.6" r="3.15"/><circle cx="730.6" cy="470.6" r="3.15"/><circle cx="757.6" cy="470.6" r="3.15"/><circle cx="783.6" cy="470.6" r="3.15"/><circle cx="810.6" cy="470.6" r="3.15"/><circle cx="837.6" cy="470.6" r="3.15"/><circle cx="864.6" cy="470.6" r="3.15"/><circle cx="890.6" cy="470.6" r="3.15"/><circle cx="917.6" cy="470.6" r="3.15"/><circle cx="944.6" cy="470.6" r="3.15"/><circle cx="971.6" cy="470.6" r="3.15"/><circle cx="997.6" cy="470.6" r="3.15"/><circle cx="1024.6" cy="470.6" r="3.15"/><circle cx="1051.6" cy="470.6" r="3.15"/><circle cx="1078.6" cy="470.6" r="3.15"/><circle cx="1104.6" cy="470.6" r="3.15"/><circle cx="1131.6" cy="470.6" r="3.15"/><circle cx="1158.6" cy="470.6" r="3.15"/><circle cx="1184.6" cy="470.6" r="3.15"/><circle cx="1211.6" cy="470.6" r="3.15"/><circle cx="1238.6" cy="470.6" r="3.15"/><circle cx="1265.6" cy="470.6" r="3.15"/><circle cx="1291.6" cy="470.6" r="3.15"/><circle cx="1318.6" cy="470.6" r="3.15"/><circle cx="1345.6" cy="470.6" r="3.15"/><circle cx="1372.6" cy="470.6" r="3.15"/><circle cx="1398.6" cy="470.6" r="3.15"/><circle cx="1425.6" cy="470.6" r="3.15"/><circle cx="1452.6" cy="470.6" r="3.15"/><circle cx="1479.6" cy="470.6" r="3.15"/><circle cx="1505.6" cy="470.6" r="3.15"/><circle cx="1532.6" cy="470.6" r="3.15"/><circle cx="1559.6" cy="471.6" r="3.15"/><circle cx="1585.6" cy="471.6" r="3.15"/><circle cx="1612.6" cy="471.6" r="3.15"/><circle cx="1639.6" cy="471.6" r="3.15"/></g>
<path d="M80,253.5 H1685" stroke="#698593" stroke-width="1" stroke-dasharray="3 2" fill="none"/>
<path d="M449.5,248 V473" stroke="#5d7783" stroke-width="1" stroke-dasharray="3 2" fill="none"/>
<circle cx="464.3" cy="272.5" r="6.75" fill="#73BF69" fill-opacity="0.5"/>
<circle cx="464.3" cy="272.5" r="3.6" fill="#73BF69"/>
<circle cx="464.3" cy="343.5" r="6.75" fill="#F2CC0C" fill-opacity="0.5"/>
<circle cx="464.3" cy="343.5" r="3.6" fill="#F2CC0C"/>
<circle cx="464.3" cy="396.5" r="6.75" fill="#8AB8FF" fill-opacity="0.5"/>
<circle cx="464.3" cy="396.5" r="3.6" fill="#8AB8FF"/>
<circle cx="464.3" cy="435.5" r="6.75" fill="#FF780A" fill-opacity="0.5"/>
<circle cx="464.3" cy="435.5" r="3.6" fill="#FF780A"/>
<circle cx="464.3" cy="450.5" r="6.75" fill="#F2495C" fill-opacity="0.5"/>
<circle cx="464.3" cy="450.5" r="3.6" fill="#F2495C"/>
<circle cx="464.3" cy="454.5" r="6.75" fill="#5794F2" fill-opacity="0.5"/>
<circle cx="464.3" cy="454.5" r="3.6" fill="#5794F2"/>
<circle cx="464.3" cy="469.5" r="6.75" fill="#B877D9" fill-opacity="0.5"/>
<circle cx="464.3" cy="469.5" r="3.6" fill="#B877D9"/>
<circle cx="464.3" cy="471.5" r="6.75" fill="#705DA0" fill-opacity="0.5"/>
<circle cx="464.3" cy="471.5" r="3.6" fill="#705DA0"/>
</svg>
<ul class="legend l1">
<li class="r0">
<span class="item"><i style="background:#73BF69"></i><span class="lbl" style="letter-spacing:0.867px">jvm.memory.used {podname="hello-from-source--y7s7crk-774c59b565-756f9", poolname="Metaspace"}</span></span>
<span class="item"><i style="background:#F2CC0C"></i><span class="lbl" style="letter-spacing:0.842px">jvm.memory.used {podname="hello-from-source--y7s7crk-774c59b565-756f9", poolname="Tenured Gen"}</span></span>
</li>
<li class="r1">
<span class="item"><i style="background:#8AB8FF"></i><span class="lbl" style="letter-spacing:0.854px">jvm.memory.used {podname="hello-from-source--y7s7crk-774c59b565-756f9", poolname="CodeHeap 'profiled nmethods'"}</span></span>
</li>
<li class="r2">
<span class="item"><i style="background:#FF780A"></i><span class="lbl" style="letter-spacing:0.835px">jvm.memory.used {podname="hello-from-source--y7s7crk-774c59b565-756f9", poolname="Eden Space"}</span></span>
</li>
<li class="r3">
<span class="item"><i style="background:#F2495C"></i><span class="lbl" style="letter-spacing:0.812px">jvm.memory.used {podname="hello-from-source--y7s7crk-774c59b565-756f9", poolname="Compressed Class Space"}</span></span>
</li>
<li class="r4">
<span class="item"><i style="background:#5794F2"></i><span class="lbl" style="letter-spacing:0.859px">jvm.memory.used {podname="hello-from-source--y7s7crk-774c59b565-756f9", poolname="CodeHeap 'non-profiled nmethods'"}</span></span>
</li>
</ul>
<div class="sb" style="top:314px;height:95px"></div>
<div class="menu"><b style="top:12.5px"></b><b style="top:18.3px"></b><b style="top:24px"></b></div>
</section>
<section class="panel" id="limit"><h2 style="letter-spacing:.94px">Memory limit by pool</h2>
<svg class="chart" width="1710" height="330" viewBox="0 662 1710 330" style="top:-1px">
<rect x="89" y="723" width="1596" height="1" fill="#2c3033"/>
<rect x="89" y="760" width="1596" height="1" fill="#2c3033"/>
<rect x="89" y="798" width="1596" height="1" fill="#2c3033"/>
<rect x="89" y="835" width="1596" height="1" fill="#2c3033"/>
<rect x="89" y="873" width="1596" height="1" fill="#2c3033"/>
<rect x="89" y="911" width="1596" height="1" fill="#2c3033"/>
<rect x="89" y="948" width="1596" height="1" fill="#2c3033"/>
<rect x="203" y="723" width="1" height="231" fill="#2c3033"/>
<rect x="336" y="723" width="1" height="231" fill="#2c3033"/>
<rect x="469" y="723" width="1" height="231" fill="#2c3033"/>
<rect x="602" y="723" width="1" height="231" fill="#2c3033"/>
<rect x="735" y="723" width="1" height="231" fill="#2c3033"/>
<rect x="868" y="723" width="1" height="231" fill="#2c3033"/>
<rect x="1001" y="723" width="1" height="231" fill="#2c3033"/>
<rect x="1134" y="723" width="1" height="231" fill="#2c3033"/>
<rect x="1266" y="723" width="1" height="231" fill="#2c3033"/>
<rect x="1399" y="723" width="1" height="231" fill="#2c3033"/>
<rect x="1532" y="723" width="1" height="231" fill="#2c3033"/>
<rect x="1665" y="723" width="1" height="231" fill="#2c3033"/>
<g class="ax">
<text x="83.0" y="727.7" text-anchor="end" font-size="15" textLength="56.3" lengthAdjust="spacing" >300 MB</text>
<text x="83.0" y="765.2" text-anchor="end" font-size="15" textLength="55.7" lengthAdjust="spacing" >250 MB</text>
<text x="83.0" y="802.8" text-anchor="end" font-size="15" textLength="56.0" lengthAdjust="spacing" >200 MB</text>
<text x="83.0" y="840.3" text-anchor="end" font-size="15" textLength="53.5" lengthAdjust="spacing" >150 MB</text>
<text x="83.0" y="877.8" text-anchor="end" font-size="15" textLength="53.5" lengthAdjust="spacing" >100 MB</text>
<text x="83.0" y="915.3" text-anchor="end" font-size="15" textLength="46.3" lengthAdjust="spacing" >50 MB</text>
<text x="83.0" y="952.7" text-anchor="end" font-size="15" textLength="23.3" lengthAdjust="spacing" >0 B</text>
<text x="202.8" y="970.5" text-anchor="middle" font-size="15" textLength="34.4" lengthAdjust="spacing" >15:15</text>
<text x="335.8" y="970.5" text-anchor="middle" font-size="15" textLength="38.6" lengthAdjust="spacing" >15:20</text>
<text x="468.8" y="970.5" text-anchor="middle" font-size="15" textLength="37.9" lengthAdjust="spacing" >15:25</text>
<text x="601.8" y="970.5" text-anchor="middle" font-size="15" textLength="38.9" lengthAdjust="spacing" >15:30</text>
<text x="734.8" y="970.5" text-anchor="middle" font-size="15" textLength="38.2" lengthAdjust="spacing" >15:35</text>
<text x="867.8" y="970.5" text-anchor="middle" font-size="15" textLength="39.2" lengthAdjust="spacing" >15:40</text>
<text x="1000.8" y="970.5" text-anchor="middle" font-size="15" textLength="38.5" lengthAdjust="spacing" >15:45</text>
<text x="1133.8" y="970.5" text-anchor="middle" font-size="15" textLength="38.7" lengthAdjust="spacing" >15:50</text>
<text x="1265.8" y="970.5" text-anchor="middle" font-size="15" textLength="38.0" lengthAdjust="spacing" >15:55</text>
<text x="1398.8" y="970.5" text-anchor="middle" font-size="15" textLength="39.7" lengthAdjust="spacing" >16:00</text>
<text x="1531.8" y="970.5" text-anchor="middle" font-size="15" textLength="39.0" lengthAdjust="spacing" >16:05</text>
<text x="1664.8" y="970.5" text-anchor="middle" font-size="15" textLength="35.4" lengthAdjust="spacing" >16:10</text>
</g>
<path d="M88.5,750.6 L97.6,750.6 L123.6,750.6 L150.6,750.6 L177.6,750.6 L203.6,750.6 L230.6,750.6 L256.6,750.6 L283.6,750.6 L310.6,750.6 L336.6,750.6 L363.6,750.6 L389.6,750.6 L416.6,750.6 L442.6,750.6 L469.6,750.6 L496.6,750.6 L522.6,750.6 L549.6,750.6 L575.6,750.6 L602.6,750.6 L628.6,750.6 L655.6,750.6 L682.6,750.6 L708.6,750.6 L735.6,750.6 L761.6,750.6 L788.6,750.6 L815.6,750.6 L841.6,750.6 L868.6,750.6 L894.6,750.6 L921.6,750.6 L947.6,750.6 L974.6,750.6 L1001.6,750.6 L1027.6,750.6 L1054.6,750.6 L1080.6,750.6 L1107.6,750.6 L1134.6,750.6 L1160.6,750.6 L1187.6,750.6 L1213.6,750.6 L1240.6,750.6 L1266.6,750.6 L1293.6,750.6 L1320.6,750.6 L1346.6,750.6 L1373.6,750.6 L1399.6,750.6 L1426.6,750.6 L1452.6,750.6 L1479.6,750.6 L1506.6,750.6 L1532.6,750.6 L1559.6,750.6 L1585.6,750.6 L1612.6,750.6 L1639.6,750.6" fill="none" stroke="#73BF69" stroke-width="1.25" stroke-linejoin="round"/><g fill="#73BF69"><circle cx="97.6" cy="750.6" r="3.15"/><circle cx="123.6" cy="750.6" r="3.15"/><circle cx="150.6" cy="750.6" r="3.15"/><circle cx="177.6" cy="750.6" r="3.15"/><circle cx="203.6" cy="750.6" r="3.15"/><circle cx="230.6" cy="750.6" r="3.15"/><circle cx="256.6" cy="750.6" r="3.15"/><circle cx="283.6" cy="750.6" r="3.15"/><circle cx="310.6" cy="750.6" r="3.15"/><circle cx="336.6" cy="750.6" r="3.15"/><circle cx="363.6" cy="750.6" r="3.15"/><circle cx="389.6" cy="750.6" r="3.15"/><circle cx="416.6" cy="750.6" r="3.15"/><circle cx="442.6" cy="750.6" r="3.15"/><circle cx="469.6" cy="750.6" r="3.15"/><circle cx="496.6" cy="750.6" r="3.15"/><circle cx="522.6" cy="750.6" r="3.15"/><circle cx="549.6" cy="750.6" r="3.15"/><circle cx="575.6" cy="750.6" r="3.15"/><circle cx="602.6" cy="750.6" r="3.15"/><circle cx="628.6" cy="750.6" r="3.15"/><circle cx="655.6" cy="750.6" r="3.15"/><circle cx="682.6" cy="750.6" r="3.15"/><circle cx="708.6" cy="750.6" r="3.15"/><circle cx="735.6" cy="750.6" r="3.15"/><circle cx="761.6" cy="750.6" r="3.15"/><circle cx="788.6" cy="750.6" r="3.15"/><circle cx="815.6" cy="750.6" r="3.15"/><circle cx="841.6" cy="750.6" r="3.15"/><circle cx="868.6" cy="750.6" r="3.15"/><circle cx="894.6" cy="750.6" r="3.15"/><circle cx="921.6" cy="750.6" r="3.15"/><circle cx="947.6" cy="750.6" r="3.15"/><circle cx="974.6" cy="750.6" r="3.15"/><circle cx="1001.6" cy="750.6" r="3.15"/><circle cx="1027.6" cy="750.6" r="3.15"/><circle cx="1054.6" cy="750.6" r="3.15"/><circle cx="1080.6" cy="750.6" r="3.15"/><circle cx="1107.6" cy="750.6" r="3.15"/><circle cx="1134.6" cy="750.6" r="3.15"/><circle cx="1160.6" cy="750.6" r="3.15"/><circle cx="1187.6" cy="750.6" r="3.15"/><circle cx="1213.6" cy="750.6" r="3.15"/><circle cx="1240.6" cy="750.6" r="3.15"/><circle cx="1266.6" cy="750.6" r="3.15"/><circle cx="1293.6" cy="750.6" r="3.15"/><circle cx="1320.6" cy="750.6" r="3.15"/><circle cx="1346.6" cy="750.6" r="3.15"/><circle cx="1373.6" cy="750.6" r="3.15"/><circle cx="1399.6" cy="750.6" r="3.15"/><circle cx="1426.6" cy="750.6" r="3.15"/><circle cx="1452.6" cy="750.6" r="3.15"/><circle cx="1479.6" cy="750.6" r="3.15"/><circle cx="1506.6" cy="750.6" r="3.15"/><circle cx="1532.6" cy="750.6" r="3.15"/><circle cx="1559.6" cy="750.6" r="3.15"/><circle cx="1585.6" cy="750.6" r="3.15"/><circle cx="1612.6" cy="750.6" r="3.15"/><circle cx="1639.6" cy="750.6" r="3.15"/></g>
<path d="M88.5,832.6 L97.6,832.6 L123.6,832.6 L150.6,832.6 L177.6,832.6 L203.6,832.6 L230.6,832.6 L256.6,832.6 L283.6,832.6 L310.6,832.6 L336.6,832.6 L363.6,832.6 L389.6,832.6 L416.6,832.6 L442.6,832.6 L469.6,832.6 L496.6,832.6 L522.6,832.6 L549.6,832.6 L575.6,832.6 L602.6,832.6 L628.6,832.6 L655.6,832.6 L682.6,832.6 L708.6,832.6 L735.6,832.6 L761.6,832.6 L788.6,832.6 L815.6,832.6 L841.6,832.6 L868.6,832.6 L894.6,832.6 L921.6,832.6 L947.6,832.6 L974.6,832.6 L1001.6,832.6 L1027.6,832.6 L1054.6,832.6 L1080.6,832.6 L1107.6,832.6 L1134.6,832.6 L1160.6,832.6 L1187.6,832.6 L1213.6,832.6 L1240.6,832.6 L1266.6,832.6 L1293.6,832.6 L1320.6,832.6 L1346.6,832.6 L1373.6,832.6 L1399.6,832.6 L1426.6,832.6 L1452.6,832.6 L1479.6,832.6 L1506.6,832.6 L1532.6,832.6 L1559.6,832.6 L1585.6,832.6 L1612.6,832.6 L1639.6,832.6" fill="none" stroke="#F2CC0C" stroke-width="1.25" stroke-linejoin="round"/><g fill="#F2CC0C"><circle cx="97.6" cy="832.6" r="3.15"/><circle cx="123.6" cy="832.6" r="3.15"/><circle cx="150.6" cy="832.6" r="3.15"/><circle cx="177.6" cy="832.6" r="3.15"/><circle cx="203.6" cy="832.6" r="3.15"/><circle cx="230.6" cy="832.6" r="3.15"/><circle cx="256.6" cy="832.6" r="3.15"/><circle cx="283.6" cy="832.6" r="3.15"/><circle cx="310.6" cy="832.6" r="3.15"/><circle cx="336.6" cy="832.6" r="3.15"/><circle cx="363.6" cy="832.6" r="3.15"/><circle cx="389.6" cy="832.6" r="3.15"/><circle cx="416.6" cy="832.6" r="3.15"/><circle cx="442.6" cy="832.6" r="3.15"/><circle cx="469.6" cy="832.6" r="3.15"/><circle cx="496.6" cy="832.6" r="3.15"/><circle cx="522.6" cy="832.6" r="3.15"/><circle cx="549.6" cy="832.6" r="3.15"/><circle cx="575.6" cy="832.6" r="3.15"/><circle cx="602.6" cy="832.6" r="3.15"/><circle cx="628.6" cy="832.6" r="3.15"/><circle cx="655.6" cy="832.6" r="3.15"/><circle cx="682.6" cy="832.6" r="3.15"/><circle cx="708.6" cy="832.6" r="3.15"/><circle cx="735.6" cy="832.6" r="3.15"/><circle cx="761.6" cy="832.6" r="3.15"/><circle cx="788.6" cy="832.6" r="3.15"/><circle cx="815.6" cy="832.6" r="3.15"/><circle cx="841.6" cy="832.6" r="3.15"/><circle cx="868.6" cy="832.6" r="3.15"/><circle cx="894.6" cy="832.6" r="3.15"/><circle cx="921.6" cy="832.6" r="3.15"/><circle cx="947.6" cy="832.6" r="3.15"/><circle cx="974.6" cy="832.6" r="3.15"/><circle cx="1001.6" cy="832.6" r="3.15"/><circle cx="1027.6" cy="832.6" r="3.15"/><circle cx="1054.6" cy="832.6" r="3.15"/><circle cx="1080.6" cy="832.6" r="3.15"/><circle cx="1107.6" cy="832.6" r="3.15"/><circle cx="1134.6" cy="832.6" r="3.15"/><circle cx="1160.6" cy="832.6" r="3.15"/><circle cx="1187.6" cy="832.6" r="3.15"/><circle cx="1213.6" cy="832.6" r="3.15"/><circle cx="1240.6" cy="832.6" r="3.15"/><circle cx="1266.6" cy="832.6" r="3.15"/><circle cx="1293.6" cy="832.6" r="3.15"/><circle cx="1320.6" cy="832.6" r="3.15"/><circle cx="1346.6" cy="832.6" r="3.15"/><circle cx="1373.6" cy="832.6" r="3.15"/><circle cx="1399.6" cy="832.6" r="3.15"/><circle cx="1426.6" cy="832.6" r="3.15"/><circle cx="1452.6" cy="832.6" r="3.15"/><circle cx="1479.6" cy="832.6" r="3.15"/><circle cx="1506.6" cy="832.6" r="3.15"/><circle cx="1532.6" cy="832.6" r="3.15"/><circle cx="1559.6" cy="832.6" r="3.15"/><circle cx="1585.6" cy="832.6" r="3.15"/><circle cx="1612.6" cy="832.6" r="3.15"/><circle cx="1639.6" cy="832.6" r="3.15"/></g>
<path d="M88.5,839.6 L97.6,839.6 L123.6,839.6 L150.6,839.6 L177.6,839.6 L203.6,839.6 L230.6,839.6 L256.6,839.6 L283.6,839.6 L310.6,839.6 L336.6,839.6 L363.6,839.6 L389.6,839.6 L416.6,839.6 L442.6,839.6 L469.6,839.6 L496.6,839.6 L522.6,839.6 L549.6,839.6 L575.6,839.6 L602.6,839.6 L628.6,839.6 L655.6,839.6 L682.6,839.6 L708.6,839.6 L735.6,839.6 L761.6,839.6 L788.6,839.6 L815.6,839.6 L841.6,839.6 L868.6,839.6 L894.6,839.6 L921.6,839.6 L947.6,839.6 L974.6,839.6 L1001.6,839.6 L1027.6,839.6 L1054.6,839.6 L1080.6,839.6 L1107.6,839.6 L1134.6,839.6 L1160.6,839.6 L1187.6,839.6 L1213.6,839.6 L1240.6,839.6 L1266.6,839.6 L1293.6,839.6 L1320.6,839.6 L1346.6,839.6 L1373.6,839.6 L1399.6,839.6 L1426.6,839.6 L1452.6,839.6 L1479.6,839.6 L1506.6,839.6 L1532.6,839.6 L1559.6,839.6 L1585.6,839.6 L1612.6,839.6 L1639.6,839.6" fill="none" stroke="#8AB8FF" stroke-width="1.25" stroke-linejoin="round"/><g fill="#8AB8FF"><circle cx="97.6" cy="839.6" r="3.15"/><circle cx="123.6" cy="839.6" r="3.15"/><circle cx="150.6" cy="839.6" r="3.15"/><circle cx="177.6" cy="839.6" r="3.15"/><circle cx="203.6" cy="839.6" r="3.15"/><circle cx="230.6" cy="839.6" r="3.15"/><circle cx="256.6" cy="839.6" r="3.15"/><circle cx="283.6" cy="839.6" r="3.15"/><circle cx="310.6" cy="839.6" r="3.15"/><circle cx="336.6" cy="839.6" r="3.15"/><circle cx="363.6" cy="839.6" r="3.15"/><circle cx="389.6" cy="839.6" r="3.15"/><circle cx="416.6" cy="839.6" r="3.15"/><circle cx="442.6" cy="839.6" r="3.15"/><circle cx="469.6" cy="839.6" r="3.15"/><circle cx="496.6" cy="839.6" r="3.15"/><circle cx="522.6" cy="839.6" r="3.15"/><circle cx="549.6" cy="839.6" r="3.15"/><circle cx="575.6" cy="839.6" r="3.15"/><circle cx="602.6" cy="839.6" r="3.15"/><circle cx="628.6" cy="839.6" r="3.15"/><circle cx="655.6" cy="839.6" r="3.15"/><circle cx="682.6" cy="839.6" r="3.15"/><circle cx="708.6" cy="839.6" r="3.15"/><circle cx="735.6" cy="839.6" r="3.15"/><circle cx="761.6" cy="839.6" r="3.15"/><circle cx="788.6" cy="839.6" r="3.15"/><circle cx="815.6" cy="839.6" r="3.15"/><circle cx="841.6" cy="839.6" r="3.15"/><circle cx="868.6" cy="839.6" r="3.15"/><circle cx="894.6" cy="839.6" r="3.15"/><circle cx="921.6" cy="839.6" r="3.15"/><circle cx="947.6" cy="839.6" r="3.15"/><circle cx="974.6" cy="839.6" r="3.15"/><circle cx="1001.6" cy="839.6" r="3.15"/><circle cx="1027.6" cy="839.6" r="3.15"/><circle cx="1054.6" cy="839.6" r="3.15"/><circle cx="1080.6" cy="839.6" r="3.15"/><circle cx="1107.6" cy="839.6" r="3.15"/><circle cx="1134.6" cy="839.6" r="3.15"/><circle cx="1160.6" cy="839.6" r="3.15"/><circle cx="1187.6" cy="839.6" r="3.15"/><circle cx="1213.6" cy="839.6" r="3.15"/><circle cx="1240.6" cy="839.6" r="3.15"/><circle cx="1266.6" cy="839.6" r="3.15"/><circle cx="1293.6" cy="839.6" r="3.15"/><circle cx="1320.6" cy="839.6" r="3.15"/><circle cx="1346.6" cy="839.6" r="3.15"/><circle cx="1373.6" cy="839.6" r="3.15"/><circle cx="1399.6" cy="839.6" r="3.15"/><circle cx="1426.6" cy="839.6" r="3.15"/><circle cx="1452.6" cy="839.6" r="3.15"/><circle cx="1479.6" cy="839.6" r="3.15"/><circle cx="1506.6" cy="839.6" r="3.15"/><circle cx="1532.6" cy="839.6" r="3.15"/><circle cx="1559.6" cy="839.6" r="3.15"/><circle cx="1585.6" cy="839.6" r="3.15"/><circle cx="1612.6" cy="839.6" r="3.15"/><circle cx="1639.6" cy="839.6" r="3.15"/></g>
<path d="M88.5,856.6 L97.6,856.6 L123.6,856.6 L150.6,856.6 L177.6,856.6 L203.6,856.6 L230.6,856.6 L256.6,856.6 L283.6,856.6 L310.6,856.6 L336.6,856.6 L363.6,856.6 L389.6,856.6 L416.6,856.6 L442.6,856.6 L469.6,856.6 L496.6,856.6 L522.6,856.6 L549.6,856.6 L575.6,856.6 L602.6,856.6 L628.6,856.6 L655.6,856.6 L682.6,856.6 L708.6,856.6 L735.6,856.6 L761.6,856.6 L788.6,856.6 L815.6,856.6 L841.6,856.6 L868.6,856.6 L894.6,856.6 L921.6,856.6 L947.6,856.6 L974.6,856.6 L1001.6,856.6 L1027.6,856.6 L1054.6,856.6 L1080.6,856.6 L1107.6,856.6 L1134.6,856.6 L1160.6,856.6 L1187.6,856.6 L1213.6,856.6 L1240.6,856.6 L1266.6,856.6 L1293.6,856.6 L1320.6,856.6 L1346.6,856.6 L1373.6,856.6 L1399.6,856.6 L1426.6,856.6 L1452.6,856.6 L1479.6,856.6 L1506.6,856.6 L1532.6,856.6 L1559.6,856.6 L1585.6,856.6 L1612.6,856.6 L1639.6,856.6" fill="none" stroke="#FF780A" stroke-width="1.25" stroke-linejoin="round"/><g fill="#FF780A"><circle cx="97.6" cy="856.6" r="3.15"/><circle cx="123.6" cy="856.6" r="3.15"/><circle cx="150.6" cy="856.6" r="3.15"/><circle cx="177.6" cy="856.6" r="3.15"/><circle cx="203.6" cy="856.6" r="3.15"/><circle cx="230.6" cy="856.6" r="3.15"/><circle cx="256.6" cy="856.6" r="3.15"/><circle cx="283.6" cy="856.6" r="3.15"/><circle cx="310.6" cy="856.6" r="3.15"/><circle cx="336.6" cy="856.6" r="3.15"/><circle cx="363.6" cy="856.6" r="3.15"/><circle cx="389.6" cy="856.6" r="3.15"/><circle cx="416.6" cy="856.6" r="3.15"/><circle cx="442.6" cy="856.6" r="3.15"/><circle cx="469.6" cy="856.6" r="3.15"/><circle cx="496.6" cy="856.6" r="3.15"/><circle cx="522.6" cy="856.6" r="3.15"/><circle cx="549.6" cy="856.6" r="3.15"/><circle cx="575.6" cy="856.6" r="3.15"/><circle cx="602.6" cy="856.6" r="3.15"/><circle cx="628.6" cy="856.6" r="3.15"/><circle cx="655.6" cy="856.6" r="3.15"/><circle cx="682.6" cy="856.6" r="3.15"/><circle cx="708.6" cy="856.6" r="3.15"/><circle cx="735.6" cy="856.6" r="3.15"/><circle cx="761.6" cy="856.6" r="3.15"/><circle cx="788.6" cy="856.6" r="3.15"/><circle cx="815.6" cy="856.6" r="3.15"/><circle cx="841.6" cy="856.6" r="3.15"/><circle cx="868.6" cy="856.6" r="3.15"/><circle cx="894.6" cy="856.6" r="3.15"/><circle cx="921.6" cy="856.6" r="3.15"/><circle cx="947.6" cy="856.6" r="3.15"/><circle cx="974.6" cy="856.6" r="3.15"/><circle cx="1001.6" cy="856.6" r="3.15"/><circle cx="1027.6" cy="856.6" r="3.15"/><circle cx="1054.6" cy="856.6" r="3.15"/><circle cx="1080.6" cy="856.6" r="3.15"/><circle cx="1107.6" cy="856.6" r="3.15"/><circle cx="1134.6" cy="856.6" r="3.15"/><circle cx="1160.6" cy="856.6" r="3.15"/><circle cx="1187.6" cy="856.6" r="3.15"/><circle cx="1213.6" cy="856.6" r="3.15"/><circle cx="1240.6" cy="856.6" r="3.15"/><circle cx="1266.6" cy="856.6" r="3.15"/><circle cx="1293.6" cy="856.6" r="3.15"/><circle cx="1320.6" cy="856.6" r="3.15"/><circle cx="1346.6" cy="856.6" r="3.15"/><circle cx="1373.6" cy="856.6" r="3.15"/><circle cx="1399.6" cy="856.6" r="3.15"/><circle cx="1426.6" cy="856.6" r="3.15"/><circle cx="1452.6" cy="856.6" r="3.15"/><circle cx="1479.6" cy="856.6" r="3.15"/><circle cx="1506.6" cy="856.6" r="3.15"/><circle cx="1532.6" cy="856.6" r="3.15"/><circle cx="1559.6" cy="856.6" r="3.15"/><circle cx="1585.6" cy="856.6" r="3.15"/><circle cx="1612.6" cy="856.6" r="3.15"/><circle cx="1639.6" cy="856.6" r="3.15"/></g>
<path d="M88.5,856.6 L97.6,856.6 L123.6,856.6 L150.6,856.6 L177.6,856.6 L203.6,856.6 L230.6,856.6 L256.6,856.6 L283.6,856.6 L310.6,856.6 L336.6,856.6 L363.6,856.6 L389.6,856.6 L416.6,856.6 L442.6,856.6 L469.6,856.6 L496.6,856.6 L522.6,856.6 L549.6,856.6 L575.6,856.6 L602.6,856.6 L628.6,856.6 L655.6,856.6 L682.6,856.6 L708.6,856.6 L735.6,856.6 L761.6,856.6 L788.6,856.6 L815.6,856.6 L841.6,856.6 L868.6,856.6 L894.6,856.6 L921.6,856.6 L947.6,856.6 L974.6,856.6 L1001.6,856.6 L1027.6,856.6 L1054.6,856.6 L1080.6,856.6 L1107.6,856.6 L1134.6,856.6 L1160.6,856.6 L1187.6,856.6 L1213.6,856.6 L1240.6,856.6 L1266.6,856.6 L1293.6,856.6 L1320.6,856.6 L1346.6,856.6 L1373.6,856.6 L1399.6,856.6 L1426.6,856.6 L1452.6,856.6 L1479.6,856.6 L1506.6,856.6 L1532.6,856.6 L1559.6,856.6 L1585.6,856.6 L1612.6,856.6 L1639.6,856.6" fill="none" stroke="#F2495C" stroke-width="1.25" stroke-linejoin="round"/><g fill="#F2495C"><circle cx="97.6" cy="856.6" r="3.15"/><circle cx="123.6" cy="856.6" r="3.15"/><circle cx="150.6" cy="856.6" r="3.15"/><circle cx="177.6" cy="856.6" r="3.15"/><circle cx="203.6" cy="856.6" r="3.15"/><circle cx="230.6" cy="856.6" r="3.15"/><circle cx="256.6" cy="856.6" r="3.15"/><circle cx="283.6" cy="856.6" r="3.15"/><circle cx="310.6" cy="856.6" r="3.15"/><circle cx="336.6" cy="856.6" r="3.15"/><circle cx="363.6" cy="856.6" r="3.15"/><circle cx="389.6" cy="856.6" r="3.15"/><circle cx="416.6" cy="856.6" r="3.15"/><circle cx="442.6" cy="856.6" r="3.15"/><circle cx="469.6" cy="856.6" r="3.15"/><circle cx="496.6" cy="856.6" r="3.15"/><circle cx="522.6" cy="856.6" r="3.15"/><circle cx="549.6" cy="856.6" r="3.15"/><circle cx="575.6" cy="856.6" r="3.15"/><circle cx="602.6" cy="856.6" r="3.15"/><circle cx="628.6" cy="856.6" r="3.15"/><circle cx="655.6" cy="856.6" r="3.15"/><circle cx="682.6" cy="856.6" r="3.15"/><circle cx="708.6" cy="856.6" r="3.15"/><circle cx="735.6" cy="856.6" r="3.15"/><circle cx="761.6" cy="856.6" r="3.15"/><circle cx="788.6" cy="856.6" r="3.15"/><circle cx="815.6" cy="856.6" r="3.15"/><circle cx="841.6" cy="856.6" r="3.15"/><circle cx="868.6" cy="856.6" r="3.15"/><circle cx="894.6" cy="856.6" r="3.15"/><circle cx="921.6" cy="856.6" r="3.15"/><circle cx="947.6" cy="856.6" r="3.15"/><circle cx="974.6" cy="856.6" r="3.15"/><circle cx="1001.6" cy="856.6" r="3.15"/><circle cx="1027.6" cy="856.6" r="3.15"/><circle cx="1054.6" cy="856.6" r="3.15"/><circle cx="1080.6" cy="856.6" r="3.15"/><circle cx="1107.6" cy="856.6" r="3.15"/><circle cx="1134.6" cy="856.6" r="3.15"/><circle cx="1160.6" cy="856.6" r="3.15"/><circle cx="1187.6" cy="856.6" r="3.15"/><circle cx="1213.6" cy="856.6" r="3.15"/><circle cx="1240.6" cy="856.6" r="3.15"/><circle cx="1266.6" cy="856.6" r="3.15"/><circle cx="1293.6" cy="856.6" r="3.15"/><circle cx="1320.6" cy="856.6" r="3.15"/><circle cx="1346.6" cy="856.6" r="3.15"/><circle cx="1373.6" cy="856.6" r="3.15"/><circle cx="1399.6" cy="856.6" r="3.15"/><circle cx="1426.6" cy="856.6" r="3.15"/><circle cx="1452.6" cy="856.6" r="3.15"/><circle cx="1479.6" cy="856.6" r="3.15"/><circle cx="1506.6" cy="856.6" r="3.15"/><circle cx="1532.6" cy="856.6" r="3.15"/><circle cx="1559.6" cy="856.6" r="3.15"/><circle cx="1585.6" cy="856.6" r="3.15"/><circle cx="1612.6" cy="856.6" r="3.15"/><circle cx="1639.6" cy="856.6" r="3.15"/></g>
<path d="M88.5,869.6 L97.6,869.6 L123.6,869.6 L150.6,869.6 L177.6,869.6 L203.6,869.6 L230.6,869.6 L256.6,869.6 L283.6,869.6 L310.6,869.6 L336.6,869.6 L363.6,869.6 L389.6,869.6 L416.6,869.6 L442.6,869.6 L469.6,869.6 L496.6,869.6 L522.6,869.6 L549.6,869.6 L575.6,869.6 L602.6,869.6 L628.6,869.6 L655.6,869.6 L682.6,869.6 L708.6,869.6 L735.6,869.6 L761.6,869.6 L788.6,869.6 L815.6,869.6 L841.6,869.6 L868.6,869.6 L894.6,869.6 L921.6,869.6 L947.6,869.6 L974.6,869.6 L1001.6,869.6 L1027.6,869.6 L1054.6,869.6 L1080.6,869.6 L1107.6,869.6 L1134.6,869.6 L1160.6,869.6 L1187.6,869.6 L1213.6,869.6 L1240.6,869.6 L1266.6,869.6 L1293.6,869.6 L1320.6,869.6 L1346.6,869.6 L1373.6,869.6 L1399.6,869.6 L1426.6,869.6 L1452.6,869.6 L1479.6,869.6 L1506.6,869.6 L1532.6,869.6 L1559.6,869.6 L1585.6,869.6 L1612.6,869.6 L1639.6,869.6" fill="none" stroke="#5794F2" stroke-width="1.25" stroke-linejoin="round"/><g fill="#5794F2"><circle cx="97.6" cy="869.6" r="3.15"/><circle cx="123.6" cy="869.6" r="3.15"/><circle cx="150.6" cy="869.6" r="3.15"/><circle cx="177.6" cy="869.6" r="3.15"/><circle cx="203.6" cy="869.6" r="3.15"/><circle cx="230.6" cy="869.6" r="3.15"/><circle cx="256.6" cy="869.6" r="3.15"/><circle cx="283.6" cy="869.6" r="3.15"/><circle cx="310.6" cy="869.6" r="3.15"/><circle cx="336.6" cy="869.6" r="3.15"/><circle cx="363.6" cy="869.6" r="3.15"/><circle cx="389.6" cy="869.6" r="3.15"/><circle cx="416.6" cy="869.6" r="3.15"/><circle cx="442.6" cy="869.6" r="3.15"/><circle cx="469.6" cy="869.6" r="3.15"/><circle cx="496.6" cy="869.6" r="3.15"/><circle cx="522.6" cy="869.6" r="3.15"/><circle cx="549.6" cy="869.6" r="3.15"/><circle cx="575.6" cy="869.6" r="3.15"/><circle cx="602.6" cy="869.6" r="3.15"/><circle cx="628.6" cy="869.6" r="3.15"/><circle cx="655.6" cy="869.6" r="3.15"/><circle cx="682.6" cy="869.6" r="3.15"/><circle cx="708.6" cy="869.6" r="3.15"/><circle cx="735.6" cy="869.6" r="3.15"/><circle cx="761.6" cy="869.6" r="3.15"/><circle cx="788.6" cy="869.6" r="3.15"/><circle cx="815.6" cy="869.6" r="3.15"/><circle cx="841.6" cy="869.6" r="3.15"/><circle cx="868.6" cy="869.6" r="3.15"/><circle cx="894.6" cy="869.6" r="3.15"/><circle cx="921.6" cy="869.6" r="3.15"/><circle cx="947.6" cy="869.6" r="3.15"/><circle cx="974.6" cy="869.6" r="3.15"/><circle cx="1001.6" cy="869.6" r="3.15"/><circle cx="1027.6" cy="869.6" r="3.15"/><circle cx="1054.6" cy="869.6" r="3.15"/><circle cx="1080.6" cy="869.6" r="3.15"/><circle cx="1107.6" cy="869.6" r="3.15"/><circle cx="1134.6" cy="869.6" r="3.15"/><circle cx="1160.6" cy="869.6" r="3.15"/><circle cx="1187.6" cy="869.6" r="3.15"/><circle cx="1213.6" cy="869.6" r="3.15"/><circle cx="1240.6" cy="869.6" r="3.15"/><circle cx="1266.6" cy="869.6" r="3.15"/><circle cx="1293.6" cy="869.6" r="3.15"/><circle cx="1320.6" cy="869.6" r="3.15"/><circle cx="1346.6" cy="869.6" r="3.15"/><circle cx="1373.6" cy="869.6" r="3.15"/><circle cx="1399.6" cy="869.6" r="3.15"/><circle cx="1426.6" cy="869.6" r="3.15"/><circle cx="1452.6" cy="869.6" r="3.15"/><circle cx="1479.6" cy="869.6" r="3.15"/><circle cx="1506.6" cy="869.6" r="3.15"/><circle cx="1532.6" cy="869.6" r="3.15"/><circle cx="1559.6" cy="869.6" r="3.15"/><circle cx="1585.6" cy="869.6" r="3.15"/><circle cx="1612.6" cy="869.6" r="3.15"/><circle cx="1639.6" cy="869.6" r="3.15"/></g>
<path d="M88.5,938.6 L97.6,938.6 L123.6,938.6 L150.6,938.6 L177.6,938.6 L203.6,938.6 L230.6,938.6 L256.6,938.6 L283.6,938.6 L310.6,938.6 L336.6,938.6 L363.6,938.6 L389.6,938.6 L416.6,938.6 L442.6,938.6 L469.6,938.6 L496.6,938.6 L522.6,938.6 L549.6,938.6 L575.6,938.6 L602.6,938.6 L628.6,938.6 L655.6,938.6 L682.6,938.6 L708.6,938.6 L735.6,938.6 L761.6,938.6 L788.6,938.6 L815.6,938.6 L841.6,938.6 L868.6,938.6 L894.6,938.6 L921.6,938.6 L947.6,938.6 L974.6,938.6 L1001.6,938.6 L1027.6,938.6 L1054.6,938.6 L1080.6,938.6 L1107.6,938.6 L1134.6,938.6 L1160.6,938.6 L1187.6,938.6 L1213.6,938.6 L1240.6,938.6 L1266.6,938.6 L1293.6,938.6 L1320.6,938.6 L1346.6,938.6 L1373.6,938.6 L1399.6,938.6 L1426.6,938.6 L1452.6,938.6 L1479.6,938.6 L1506.6,938.6 L1532.6,938.6 L1559.6,938.6 L1585.6,938.6 L1612.6,938.6 L1639.6,938.6" fill="none" stroke="#B877D9" stroke-width="1.25" stroke-linejoin="round"/><g fill="#B877D9"><circle cx="97.6" cy="938.6" r="3.15"/><circle cx="123.6" cy="938.6" r="3.15"/><circle cx="150.6" cy="938.6" r="3.15"/><circle cx="177.6" cy="938.6" r="3.15"/><circle cx="203.6" cy="938.6" r="3.15"/><circle cx="230.6" cy="938.6" r="3.15"/><circle cx="256.6" cy="938.6" r="3.15"/><circle cx="283.6" cy="938.6" r="3.15"/><circle cx="310.6" cy="938.6" r="3.15"/><circle cx="336.6" cy="938.6" r="3.15"/><circle cx="363.6" cy="938.6" r="3.15"/><circle cx="389.6" cy="938.6" r="3.15"/><circle cx="416.6" cy="938.6" r="3.15"/><circle cx="442.6" cy="938.6" r="3.15"/><circle cx="469.6" cy="938.6" r="3.15"/><circle cx="496.6" cy="938.6" r="3.15"/><circle cx="522.6" cy="938.6" r="3.15"/><circle cx="549.6" cy="938.6" r="3.15"/><circle cx="575.6" cy="938.6" r="3.15"/><circle cx="602.6" cy="938.6" r="3.15"/><circle cx="628.6" cy="938.6" r="3.15"/><circle cx="655.6" cy="938.6" r="3.15"/><circle cx="682.6" cy="938.6" r="3.15"/><circle cx="708.6" cy="938.6" r="3.15"/><circle cx="735.6" cy="938.6" r="3.15"/><circle cx="761.6" cy="938.6" r="3.15"/><circle cx="788.6" cy="938.6" r="3.15"/><circle cx="815.6" cy="938.6" r="3.15"/><circle cx="841.6" cy="938.6" r="3.15"/><circle cx="868.6" cy="938.6" r="3.15"/><circle cx="894.6" cy="938.6" r="3.15"/><circle cx="921.6" cy="938.6" r="3.15"/><circle cx="947.6" cy="938.6" r="3.15"/><circle cx="974.6" cy="938.6" r="3.15"/><circle cx="1001.6" cy="938.6" r="3.15"/><circle cx="1027.6" cy="938.6" r="3.15"/><circle cx="1054.6" cy="938.6" r="3.15"/><circle cx="1080.6" cy="938.6" r="3.15"/><circle cx="1107.6" cy="938.6" r="3.15"/><circle cx="1134.6" cy="938.6" r="3.15"/><circle cx="1160.6" cy="938.6" r="3.15"/><circle cx="1187.6" cy="938.6" r="3.15"/><circle cx="1213.6" cy="938.6" r="3.15"/><circle cx="1240.6" cy="938.6" r="3.15"/><circle cx="1266.6" cy="938.6" r="3.15"/><circle cx="1293.6" cy="938.6" r="3.15"/><circle cx="1320.6" cy="938.6" r="3.15"/><circle cx="1346.6" cy="938.6" r="3.15"/><circle cx="1373.6" cy="938.6" r="3.15"/><circle cx="1399.6" cy="938.6" r="3.15"/><circle cx="1426.6" cy="938.6" r="3.15"/><circle cx="1452.6" cy="938.6" r="3.15"/><circle cx="1479.6" cy="938.6" r="3.15"/><circle cx="1506.6" cy="938.6" r="3.15"/><circle cx="1532.6" cy="938.6" r="3.15"/><circle cx="1559.6" cy="938.6" r="3.15"/><circle cx="1585.6" cy="938.6" r="3.15"/><circle cx="1612.6" cy="938.6" r="3.15"/><circle cx="1639.6" cy="938.6" r="3.15"/></g>
<path d="M88.5,944.6 L97.6,944.6 L123.6,944.6 L150.6,944.6 L177.6,944.6 L203.6,944.6 L230.6,944.6 L256.6,944.6 L283.6,944.6 L310.6,944.6 L336.6,944.6 L363.6,944.6 L389.6,944.6 L416.6,944.6 L442.6,944.6 L469.6,944.6 L496.6,944.6 L522.6,944.6 L549.6,944.6 L575.6,944.6 L602.6,944.6 L628.6,944.6 L655.6,944.6 L682.6,944.6 L708.6,944.6 L735.6,944.6 L761.6,944.6 L788.6,944.6 L815.6,944.6 L841.6,944.6 L868.6,944.6 L894.6,944.6 L921.6,944.6 L947.6,944.6 L974.6,944.6 L1001.6,944.6 L1027.6,944.6 L1054.6,944.6 L1080.6,944.6 L1107.6,944.6 L1134.6,944.6 L1160.6,944.6 L1187.6,944.6 L1213.6,944.6 L1240.6,944.6 L1266.6,944.6 L1293.6,944.6 L1320.6,944.6 L1346.6,944.6 L1373.6,944.6 L1399.6,944.6 L1426.6,944.6 L1452.6,944.6 L1479.6,944.6 L1506.6,944.6 L1532.6,944.6 L1559.6,944.6 L1585.6,944.6 L1612.6,944.6 L1639.6,944.6" fill="none" stroke="#705DA0" stroke-width="1.25" stroke-linejoin="round"/><g fill="#705DA0"><circle cx="97.6" cy="944.6" r="3.15"/><circle cx="123.6" cy="944.6" r="3.15"/><circle cx="150.6" cy="944.6" r="3.15"/><circle cx="177.6" cy="944.6" r="3.15"/><circle cx="203.6" cy="944.6" r="3.15"/><circle cx="230.6" cy="944.6" r="3.15"/><circle cx="256.6" cy="944.6" r="3.15"/><circle cx="283.6" cy="944.6" r="3.15"/><circle cx="310.6" cy="944.6" r="3.15"/><circle cx="336.6" cy="944.6" r="3.15"/><circle cx="363.6" cy="944.6" r="3.15"/><circle cx="389.6" cy="944.6" r="3.15"/><circle cx="416.6" cy="944.6" r="3.15"/><circle cx="442.6" cy="944.6" r="3.15"/><circle cx="469.6" cy="944.6" r="3.15"/><circle cx="496.6" cy="944.6" r="3.15"/><circle cx="522.6" cy="944.6" r="3.15"/><circle cx="549.6" cy="944.6" r="3.15"/><circle cx="575.6" cy="944.6" r="3.15"/><circle cx="602.6" cy="944.6" r="3.15"/><circle cx="628.6" cy="944.6" r="3.15"/><circle cx="655.6" cy="944.6" r="3.15"/><circle cx="682.6" cy="944.6" r="3.15"/><circle cx="708.6" cy="944.6" r="3.15"/><circle cx="735.6" cy="944.6" r="3.15"/><circle cx="761.6" cy="944.6" r="3.15"/><circle cx="788.6" cy="944.6" r="3.15"/><circle cx="815.6" cy="944.6" r="3.15"/><circle cx="841.6" cy="944.6" r="3.15"/><circle cx="868.6" cy="944.6" r="3.15"/><circle cx="894.6" cy="944.6" r="3.15"/><circle cx="921.6" cy="944.6" r="3.15"/><circle cx="947.6" cy="944.6" r="3.15"/><circle cx="974.6" cy="944.6" r="3.15"/><circle cx="1001.6" cy="944.6" r="3.15"/><circle cx="1027.6" cy="944.6" r="3.15"/><circle cx="1054.6" cy="944.6" r="3.15"/><circle cx="1080.6" cy="944.6" r="3.15"/><circle cx="1107.6" cy="944.6" r="3.15"/><circle cx="1134.6" cy="944.6" r="3.15"/><circle cx="1160.6" cy="944.6" r="3.15"/><circle cx="1187.6" cy="944.6" r="3.15"/><circle cx="1213.6" cy="944.6" r="3.15"/><circle cx="1240.6" cy="944.6" r="3.15"/><circle cx="1266.6" cy="944.6" r="3.15"/><circle cx="1293.6" cy="944.6" r="3.15"/><circle cx="1320.6" cy="944.6" r="3.15"/><circle cx="1346.6" cy="944.6" r="3.15"/><circle cx="1373.6" cy="944.6" r="3.15"/><circle cx="1399.6" cy="944.6" r="3.15"/><circle cx="1426.6" cy="944.6" r="3.15"/><circle cx="1452.6" cy="944.6" r="3.15"/><circle cx="1479.6" cy="944.6" r="3.15"/><circle cx="1506.6" cy="944.6" r="3.15"/><circle cx="1532.6" cy="944.6" r="3.15"/><circle cx="1559.6" cy="944.6" r="3.15"/><circle cx="1585.6" cy="944.6" r="3.15"/><circle cx="1612.6" cy="944.6" r="3.15"/><circle cx="1639.6" cy="944.6" r="3.15"/></g>
</svg>
<ul class="legend l2">
<li class="r0">
<span class="item"><i style="background:#73BF69"></i><span class="lbl" style="letter-spacing:0.835px">jvm.memory.limit {podname="hello-from-source--y7s7crk-774c59b565-756f9", poolname="Tenured Gen"}</span></span>
<span class="item"><i style="background:#F2CC0C"></i><span class="lbl" style="letter-spacing:0.859px">jvm.memory.limit {podname="hello-from-source--y7s7crk-774c59b565-756f9", poolname="Metaspace"}</span></span>
</li>
<li class="r1">
<span class="item"><i style="background:#8AB8FF"></i><span class="lbl" style="letter-spacing:0.805px">jvm.memory.limit {podname="hello-from-source--y7s7crk-774c59b565-756f9", poolname="Compressed Class Space"}</span></span>
</li>
<li class="r2">
<span class="item"><i style="background:#FF780A"></i><span class="lbl" style="letter-spacing:0.85px">jvm.memory.limit {podname="hello-from-source--y7s7crk-774c59b565-756f9", poolname="CodeHeap 'profiled nmethods'"}</span></span>
</li>
<li class="r3">
<span class="item"><i style="background:#F2495C"></i><span class="lbl" style="letter-spacing:0.852px">jvm.memory.limit {podname="hello-from-source--y7s7crk-774c59b565-756f9", poolname="CodeHeap 'non-profiled nmethods'"}</span></span>
</li>
</ul>
<div class="sb" style="top:314px;height:125px"></div>
</section>
<div class="tooltip"><div class="ts">2024-11-20 15:26:00</div><i></i><span class="lbl">jvm.memory.used {podname="hello-from-source--y7s7crk-774c59b565-756f9", poolname="Metaspace"}</span><span class="val">56.5 MB</span></div>
</body>
</html>
